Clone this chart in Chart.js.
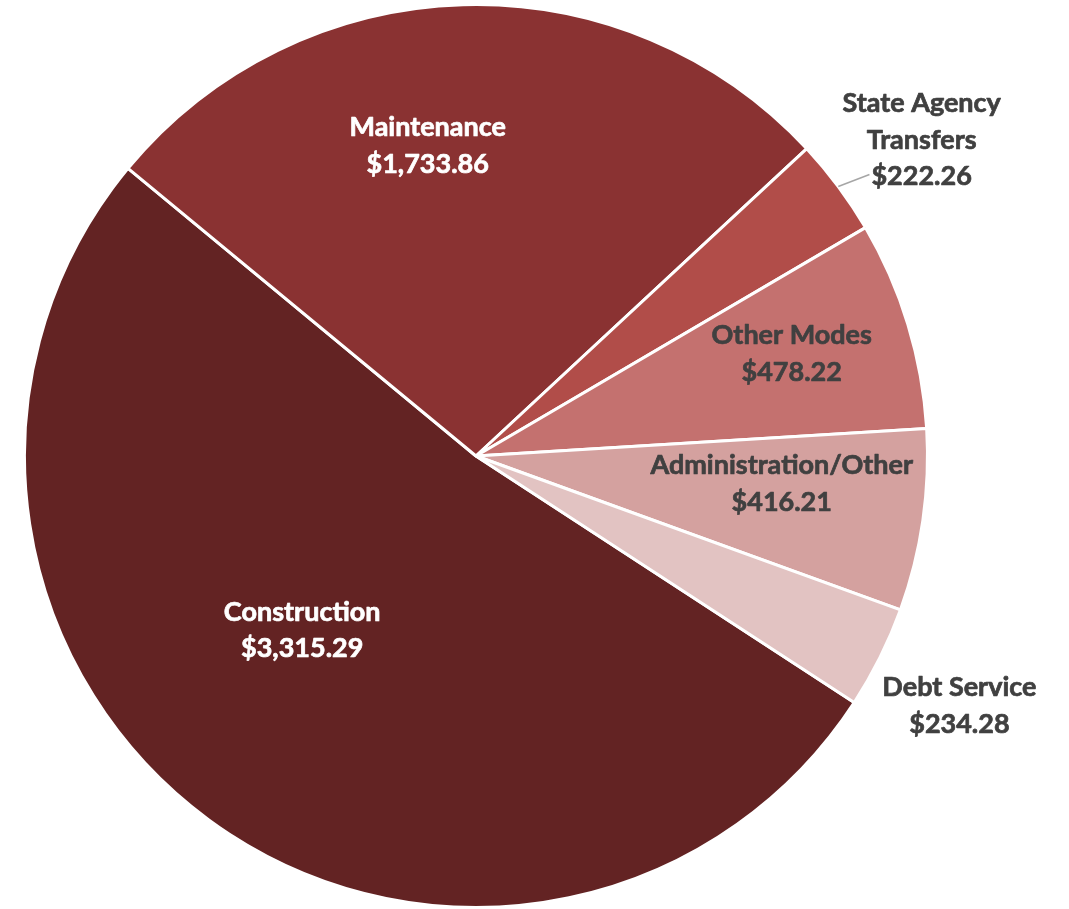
<!DOCTYPE html>
<html>
<head>
<meta charset="utf-8">
<script src="https://cdn.jsdelivr.net/npm/chart.js@4"></script>
<style>
  html, body { margin: 0; padding: 0; background: #fff; }
  #wrap { width: 1069px; height: 909px; position: relative; }
</style>
</head>
<body>
<div id="wrap"><canvas id="pie"></canvas></div>
<script>
// chart data
const categories = ["Construction", "Maintenance", "State Agency\nTransfers", "Other Modes", "Administration/Other", "Debt Service"];
const amounts = [3315.29, 1733.86, 222.26, 478.22, 416.21, 234.28];
const sliceColors = ["#632323", "#8a3232", "#b14d49", "#c4716f", "#d4a19f", "#e2c3c2"];
const labelColors = ["#ffffff", "#ffffff", "#404040", "#404040", "#404040", "#404040"];
// label placement: [radius factor, angle offset in degrees, leader line]
const labelPlace = [[0.545, 8.6, false], [0.695, -7.2, false], [1.21, 1.3, true], [0.735, -1.0, false], [0.68, -3.0, false], [1.205, 0.8, false]];

const fmt = v => "$" + v.toLocaleString("en-US", { minimumFractionDigits: 2, maximumFractionDigits: 2 });

const sliceLabels = {
    id: "sliceLabels",
    afterDatasetsDraw(chart) {
        const ctx = chart.ctx;
        const arcs = chart.getDatasetMeta(0).data;
        ctx.save();
        ctx.font = "bold 27px Lato";
        ctx.textAlign = "center";
        ctx.textBaseline = "middle";
        ctx.lineJoin = "round";
        const lh = 36.5;
        arcs.forEach((a, i) => {
            const p = a.getProps(["x", "y", "startAngle", "endAngle", "outerRadius"], true);
            const mid = (p.startAngle + p.endAngle) / 2;
            const ang = mid + labelPlace[i][1] * Math.PI / 180;
            const r = p.outerRadius * labelPlace[i][0];
            const cx = p.x + Math.cos(ang) * r, cy = p.y + Math.sin(ang) * r;
            const lines = categories[i].split("\n").concat([fmt(amounts[i])]);
            const y0 = cy - (lines.length - 1) * lh / 2;
            ctx.fillStyle = labelColors[i];
            ctx.strokeStyle = labelColors[i];
            ctx.lineWidth = 0.7;
            lines.forEach((t, k) => {
                ctx.fillText(t, cx, y0 + k * lh);
                ctx.strokeText(t, cx, y0 + k * lh);
            });
            if (labelPlace[i][2]) {
                const last = lines[lines.length - 1];
                const w = ctx.measureText(last).width;
                const ly = y0 + (lines.length - 1) * lh - 2;
                ctx.strokeStyle = "#a6a6a6";
                ctx.lineWidth = 1.5;
                ctx.beginPath();
                ctx.moveTo(p.x + Math.cos(mid) * p.outerRadius, p.y + Math.sin(mid) * p.outerRadius);
                ctx.lineTo(cx - w / 2 - 2, ly);
                ctx.stroke();
            }
        });
        ctx.restore();
    }
};

new Chart(document.getElementById("pie").getContext("2d"), {
    type: "pie",
    data: {
        labels: categories,
        datasets: [{ data: amounts, backgroundColor: sliceColors, borderColor: "#ffffff", borderWidth: 3 }]
    },
    options: {
        responsive: true,
        maintainAspectRatio: false,
        animation: false,
        rotation: 123.1,
        layout: { padding: { left: 23, right: 140, top: 3, bottom: 0 } },
        plugins: { legend: { display: false }, tooltip: { enabled: false } }
    },
    plugins: [sliceLabels]
});
</script>
</body>
</html>
